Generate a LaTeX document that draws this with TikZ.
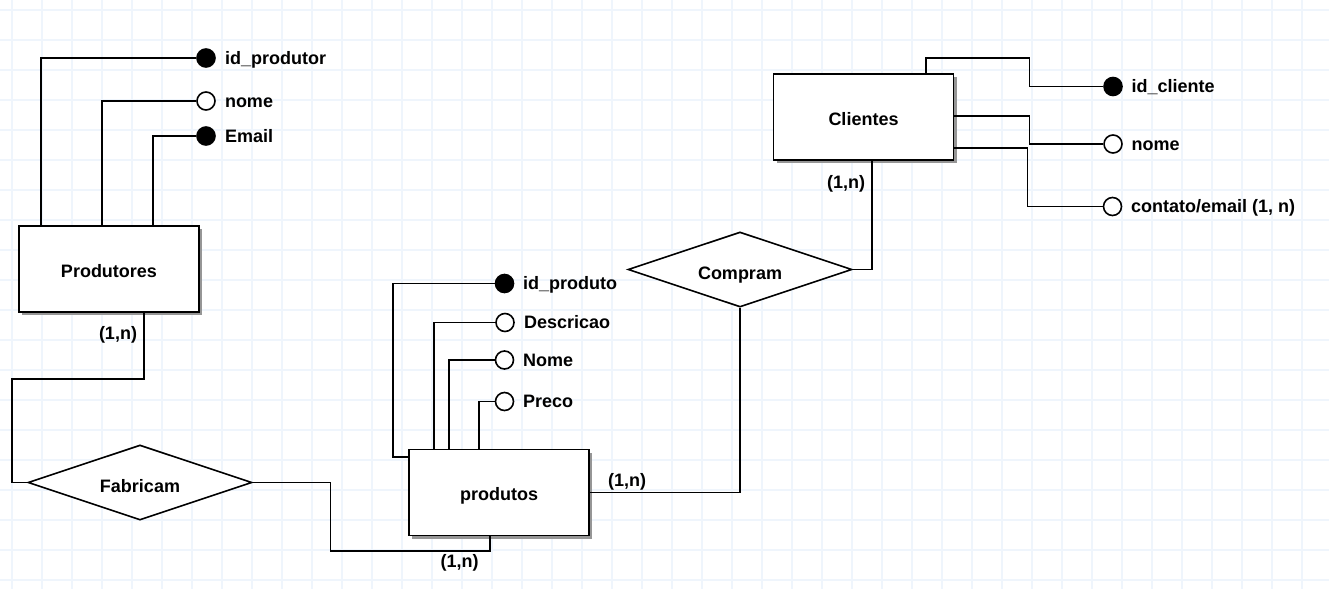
\documentclass[tikz,border=0pt]{standalone}
\usepackage{fontspec}
\setmainfont{Liberation Sans}
\usetikzlibrary{shapes.geometric,calc}
\definecolor{gridc}{RGB}{239,245,252}
\definecolor{shadowc}{RGB}{150,150,150}
\tikzset{
  ln/.style={line width=1.6pt, line join=miter},
  entity/.style={draw, line width=1.6pt, fill=white, minimum width=180pt, minimum height=86pt, inner sep=0pt,
     font=\fontsize{18}{21}\selectfont\bfseries, text height=16pt, text depth=0pt,
     preaction={fill=shadowc, transform canvas={xshift=3pt, yshift=-3pt}}},
  rel/.style={draw, line width=1.6pt, fill=white, shape=diamond, aspect=3, minimum width=224pt, minimum height=75pt, inner sep=0pt,
     font=\fontsize{18}{21}\selectfont\bfseries, text height=20pt, text depth=0pt},
  keyattr/.style={draw, line width=1.6pt, fill=black, circle, minimum size=18pt, inner sep=0pt},
  attr/.style={draw, line width=1.6pt, fill=white, circle, minimum size=18pt, inner sep=0pt},
  lbl/.style={inner sep=0pt, font=\fontsize{18}{21}\selectfont\bfseries, text height=12pt, text depth=3.5pt},
}
\begin{document}
\begin{tikzpicture}[x=1pt, y=-1pt]
\useasboundingbox (0,0) rectangle (1329,589);
\fill[white] (0,0) rectangle (1329,589);
\foreach \gx in {12,42,...,1329} \draw[gridc, line width=1.2pt] (\gx,0) -- (\gx,589);
\foreach \gy in {10,40,...,589} \draw[gridc, line width=1.2pt] (0,\gy) -- (1329,\gy);

% entities
\node[entity] (prodr) at (109,269) {Produtores};
\node[entity] (prod) at (499,492.5) {produtos};
\node[entity] (cli) at (863.5,117) {Clientes};

% relationships
\node[rel] (fab) at (140,482.5) {Fabricam};
\node[rel] (comp) at (740,269.5) {Compram};

% Produtores attributes
\node[keyattr] (a1) at (206,58) {};
\node[attr] (a2) at (206,101) {};
\node[keyattr] (a3) at (206,136) {};
\node[lbl, anchor=west] (t1) at ([xshift=9pt, yshift=-2.5pt]a1.east) {id\_produtor};
\node[lbl, anchor=west] (t2) at ([xshift=9pt, yshift=-2pt]a2.east) {nome};
\node[lbl, anchor=west] (t3) at ([xshift=9pt, yshift=-2pt]a3.east) {Email};
\draw[ln] (a1.west) -| ([xshift=23pt]prodr.north west);
\draw[ln] (a2.west) -| ([xshift=84pt]prodr.north west);
\draw[ln] (a3.west) -| ([xshift=135pt]prodr.north west);

% produtos attributes
\node[keyattr] (b1) at (504.5,283.5) {};
\node[attr] (b2) at (505,322.5) {};
\node[attr] (b3) at (504.5,360) {};
\node[attr] (b4) at (504.5,401.5) {};
\node[lbl, anchor=west] (u1) at ([xshift=8.5pt, yshift=-2pt]b1.east) {id\_produto};
\node[lbl, anchor=west] (u2) at ([xshift=9pt, yshift=-2pt]b2.east) {Descricao};
\node[lbl, anchor=west] (u3) at ([xshift=8.5pt, yshift=-2pt]b3.east) {Nome};
\node[lbl, anchor=west] (u4) at ([xshift=8.5pt, yshift=-2pt]b4.east) {Preco};
\draw[ln] (b1.west) -- ++(-101.5,0) |- ([yshift=-8.5pt]prod.north west);
\draw[ln] (b2.west) -| ([xshift=26pt]prod.north west);
\draw[ln] (b3.west) -| ([xshift=41pt]prod.north west);
\draw[ln] (b4.west) -| ([xshift=71pt]prod.north west);

% Clientes attributes
\node[keyattr] (c1) at (1113,86.5) {};
\node[attr] (c2) at (1113,144) {};
\node[attr] (c3) at (1112.5,206.5) {};
\node[lbl, anchor=west] (v1) at ([xshift=8.5pt, yshift=-2pt]c1.east) {id\_cliente};
\node[lbl, anchor=west] (v2) at ([xshift=8.5pt, yshift=-2pt]c2.east) {nome};
\node[lbl, anchor=west] (v3) at ([xshift=8.5pt, yshift=-2pt]c3.east) {contato/email (1, n)};
\draw[ln] ([xshift=153pt]cli.north west) -- ++(0,-15) -| (1029.5,86.5) -- (c1.west);
\draw[ln] ([yshift=-42.5pt]cli.north east) -| (1029.5,144) -- (c2.west);
\draw[ln] ([yshift=-74.5pt]cli.north east) -| (1027.5,206.5) -- (c3.west);

% relationship connectors
\draw[ln] ([xshift=126pt]prodr.south west) |- (12,379) |- (fab.west);
\draw[ln] (fab.east) -| (330.5,551) -| ([xshift=81.5pt]prod.south west);
\draw[ln] (prod.east) -| (comp.south);
\draw[ln] (comp.east) -| ([xshift=99pt]cli.south west);

% cardinalities
\node[lbl] (k1) at (118,335) {(1,n)};
\node[lbl] (k2) at (459.5,563) {(1,n)};
\node[lbl] (k3) at (627,482) {(1,n)};
\node[lbl] (k4) at (846,184) {(1,n)};
\end{tikzpicture}
\end{document}
